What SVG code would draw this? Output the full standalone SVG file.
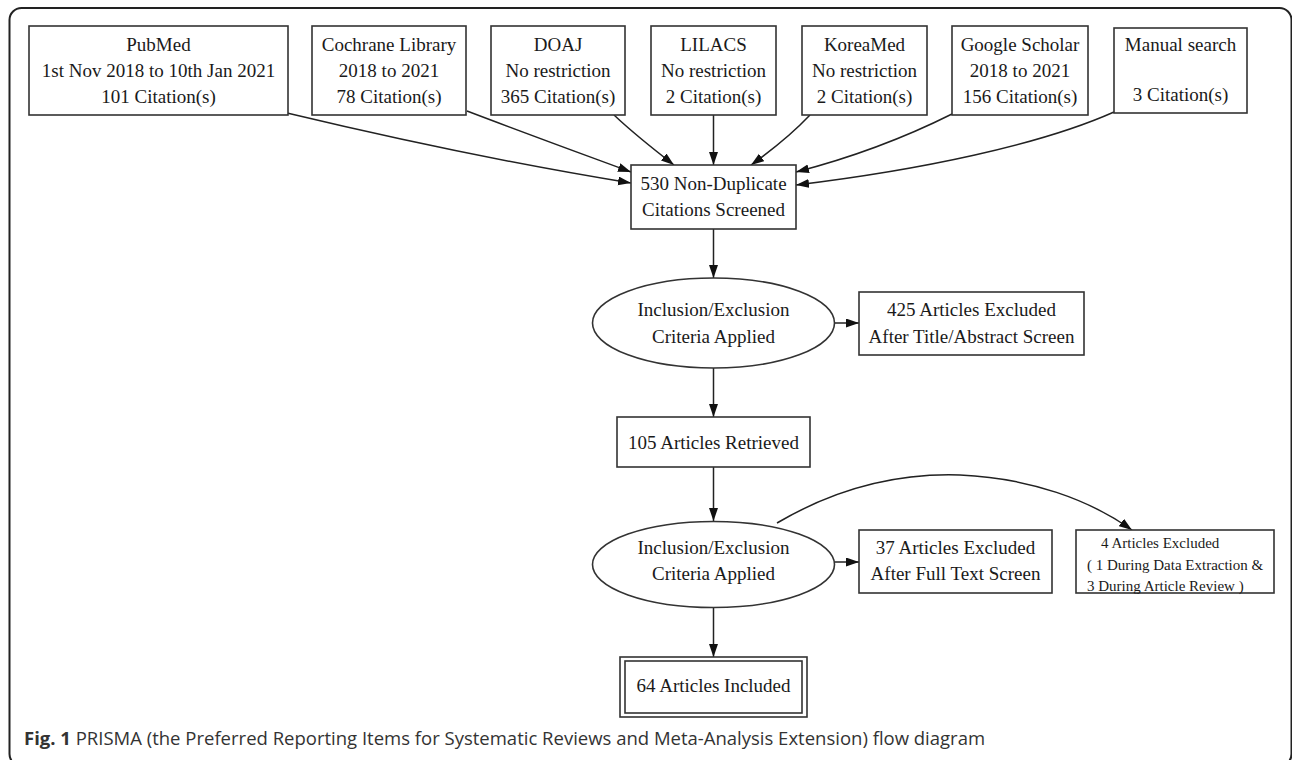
<svg xmlns="http://www.w3.org/2000/svg" width="1292" height="760" viewBox="0 0 1292 760">
<style>
.box{fill:#fff;stroke:#333;stroke-width:1.6}
.t{font-family:"Liberation Serif","Times New Roman",serif;font-size:19px;fill:#1a1a1a;text-anchor:middle}
.ts{font-family:"Liberation Serif","Times New Roman",serif;font-size:15px;fill:#1a1a1a}
.e{fill:none;stroke:#222;stroke-width:1.5}
.cap{font-family:"Open Sans","Noto Sans",sans-serif;font-size:18.5px;fill:#333}
</style>
<defs>
<marker id="ah" markerUnits="userSpaceOnUse" markerWidth="14" markerHeight="10" refX="13" refY="4.5" orient="auto">
<path d="M0,0 L13,4.5 L0,9 z" fill="#111"/>
</marker>
</defs>
<rect x="9.5" y="8" width="1282" height="758" rx="12" fill="none" stroke="#222" stroke-width="2"/>

<g id="connectors">
<path class="e" marker-end="url(#ah)" d="M287,113 C400,140 520,165 631,183"/>
<path class="e" marker-end="url(#ah)" d="M467,111 C530,135 585,155 631,172"/>
<path class="e" marker-end="url(#ah)" d="M614,115 C632,132 652,148 674,165"/>
<path class="e" marker-end="url(#ah)" d="M713.5,115 L713.5,165"/>
<path class="e" marker-end="url(#ah)" d="M810,115 C792,134 772,150 751,165"/>
<path class="e" marker-end="url(#ah)" d="M952,114 C900,140 850,158 796,172"/>
<path class="e" marker-end="url(#ah)" d="M1114,112 C1040,145 920,170 796,185"/>
<path class="e" marker-end="url(#ah)" d="M713.5,229 L713.5,278"/>
<path class="e" marker-end="url(#ah)" d="M835,323 L859,323"/>
<path class="e" marker-end="url(#ah)" d="M713.5,368 L713.5,417"/>
<path class="e" marker-end="url(#ah)" d="M713.5,467 L713.5,521"/>
<path class="e" marker-end="url(#ah)" d="M834,562 L859,562"/>
<path class="e" marker-end="url(#ah)" d="M777,523 C840,486 900,473 960,475 C1030,478 1090,500 1132,530"/>
<path class="e" marker-end="url(#ah)" d="M713.5,607 L713.5,657"/>
</g>

<g id="pubmed">
<rect class="box" x="29" y="26" width="259" height="89"/>
<text class="t" x="158.5" y="51">PubMed</text>
<text class="t" x="158.5" y="77">1st Nov 2018 to 10th Jan 2021</text>
<text class="t" x="158.5" y="103">101 Citation(s)</text>
</g>
<g id="cochrane">
<rect class="box" x="312" y="26" width="154" height="89"/>
<text class="t" x="389" y="51">Cochrane Library</text>
<text class="t" x="389" y="77">2018 to 2021</text>
<text class="t" x="389" y="103">78 Citation(s)</text>
</g>
<g id="doaj">
<rect class="box" x="491" y="26" width="134" height="89"/>
<text class="t" x="558" y="51">DOAJ</text>
<text class="t" x="558" y="77">No restriction</text>
<text class="t" x="558" y="103">365 Citation(s)</text>
</g>
<g id="lilacs">
<rect class="box" x="651" y="26" width="125" height="89"/>
<text class="t" x="713.5" y="51">LILACS</text>
<text class="t" x="713.5" y="77">No restriction</text>
<text class="t" x="713.5" y="103">2 Citation(s)</text>
</g>
<g id="koreamed">
<rect class="box" x="802" y="26" width="125" height="89"/>
<text class="t" x="864.5" y="51">KoreaMed</text>
<text class="t" x="864.5" y="77">No restriction</text>
<text class="t" x="864.5" y="103">2 Citation(s)</text>
</g>
<g id="scholar">
<rect class="box" x="952" y="26" width="136" height="89"/>
<text class="t" x="1020" y="51">Google Scholar</text>
<text class="t" x="1020" y="77">2018 to 2021</text>
<text class="t" x="1020" y="103">156 Citation(s)</text>
</g>
<g id="manual">
<rect class="box" x="1114" y="28" width="133" height="85"/>
<text class="t" x="1180.5" y="51">Manual search</text>
<text class="t" x="1180.5" y="101">3 Citation(s)</text>
</g>

<g id="screened">
<rect class="box" x="631" y="165" width="165" height="64"/>
<text class="t" x="713.5" y="190">530 Non-Duplicate</text>
<text class="t" x="713.5" y="216">Citations Screened</text>
</g>
<g id="criteria1">
<ellipse class="box" cx="713.5" cy="323" rx="121" ry="45"/>
<text class="t" x="713.5" y="316">Inclusion/Exclusion</text>
<text class="t" x="713.5" y="343">Criteria Applied</text>
</g>
<g id="excluded425">
<rect class="box" x="859" y="292" width="225" height="63"/>
<text class="t" x="971.5" y="316">425 Articles Excluded</text>
<text class="t" x="971.5" y="343">After Title/Abstract Screen</text>
</g>
<g id="retrieved">
<rect class="box" x="617" y="417" width="193" height="50"/>
<text class="t" x="713.5" y="449">105 Articles Retrieved</text>
</g>
<g id="criteria2">
<ellipse class="box" cx="713.5" cy="564.5" rx="121" ry="43"/>
<text class="t" x="713.5" y="554">Inclusion/Exclusion</text>
<text class="t" x="713.5" y="580">Criteria Applied</text>
</g>
<g id="excluded37">
<rect class="box" x="859" y="530" width="193" height="63"/>
<text class="t" x="955.5" y="554">37 Articles Excluded</text>
<text class="t" x="955.5" y="580">After Full Text Screen</text>
</g>
<g id="excluded4">
<rect class="box" x="1076" y="530" width="198" height="63"/>
<text class="ts" x="1101" y="548">4 Articles Excluded</text>
<text class="ts" x="1087" y="570">( 1 During Data Extraction &amp;</text>
<text class="ts" x="1087" y="591">3 During Article Review )</text>
</g>
<g id="included">
<rect class="box" x="620" y="657" width="187" height="60"/>
<rect class="box" x="625" y="661" width="177" height="52"/>
<text class="t" x="713.5" y="692">64 Articles Included</text>
</g>

<text class="cap" x="24" y="745"><tspan font-weight="bold">Fig. 1</tspan> PRISMA (the Preferred Reporting Items for Systematic Reviews and Meta-Analysis Extension) flow diagram</text>
</svg>
